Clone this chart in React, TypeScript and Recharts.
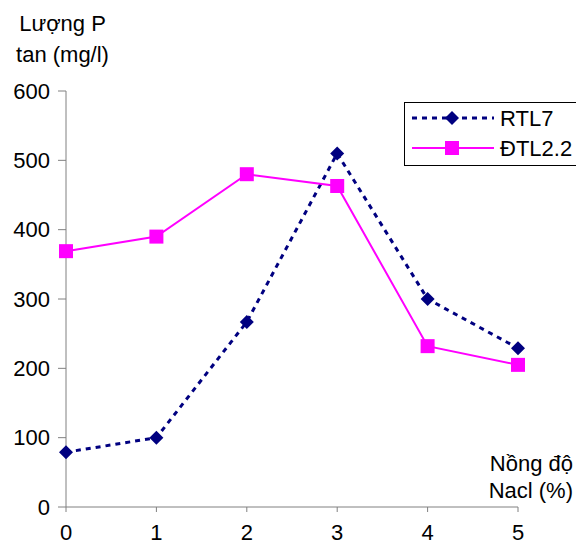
import { LineChart, Line, XAxis, YAxis } from "recharts";

const nacl = [0, 1, 2, 3, 4, 5];
const rtl7 = [79, 100, 267, 510, 300, 229];
const dtl22 = [369, 390, 480, 463, 232, 205];
const yTicks = [0, 100, 200, 300, 400, 500, 600];

const data = nacl.map((x, i) => ({ x, rtl7: rtl7[i], dtl22: dtl22[i] }));

const font = "'Liberation Sans', Arial, sans-serif";
const fs = 22;

const Diamond = (props: any) => {
  const { cx, cy, key } = props;
  const r = 7;
  return (
    <polygon key={key} points={`${cx},${cy - r} ${cx + r},${cy} ${cx},${cy + r} ${cx - r},${cy}`} fill="#000080" />
  );
};

const Square = (props: any) => {
  const { cx, cy, key } = props;
  return <rect key={key} x={cx - 7} y={cy - 7} width={14} height={14} fill="#FF00FF" />;
};

const LegendBox = () => (
  <svg width={172} height={66} style={{ display: "block" }}>
    <rect x={0.5} y={0.5} width={180} height={63} fill="#fff" stroke="#000" />
    <line x1={8} y1={16} x2={90} y2={16} stroke="#000080" strokeWidth={3} strokeDasharray="5 5" />
    <polygon points="48,9 55,16 48,23 41,16" fill="#000080" />
    <text x={96} y={24} fontSize={fs} fontFamily={font}>RTL7</text>
    <line x1={8} y1={46} x2={90} y2={46} stroke="#FF00FF" strokeWidth={2} />
    <rect x={41} y={39} width={14} height={14} fill="#FF00FF" />
    <text x={96} y={54} fontSize={fs} fontFamily={font}>ĐTL2.2</text>
  </svg>
);

export default function App() {
  return (
    <div style={{ position: "absolute", left: 0, top: 0, width: 576, height: 544, background: "#fff", fontFamily: font, overflow: "hidden" }}>
      <LineChart width={576} height={544} data={data} margin={{ top: 91, right: 58, left: 10, bottom: 0 }}>
        <XAxis
          dataKey="x"
          type="number"
          domain={[0, 5]}
          ticks={nacl}
          height={37}
          tickSize={5}
          tickMargin={12}
          stroke="#808080"
          tick={{ fill: "#000", fontSize: fs, fontFamily: font }}
        />
        <YAxis
          type="number"
          domain={[0, 600]}
          ticks={yTicks}
          width={56}
          tickSize={8}
          tickMargin={8}
          stroke="#808080"
          tick={{ fill: "#000", fontSize: fs, fontFamily: font }}
        />
        <Line
          dataKey="rtl7"
          stroke="#000080"
          strokeWidth={3}
          strokeDasharray="5 5"
          dot={Diamond}
          activeDot={false}
          isAnimationActive={false}
        />
        <Line
          dataKey="dtl22"
          stroke="#FF00FF"
          strokeWidth={2}
          dot={Square}
          activeDot={false}
          isAnimationActive={false}
        />
      </LineChart>
      <div style={{ position: "absolute", left: 404, top: 102 }}>
        <LegendBox />
      </div>
      <div style={{ position: "absolute", left: 0, top: 8, width: 125, textAlign: "center", fontSize: fs, lineHeight: "31px" }}>
        Lượng P<br />tan (mg/l)
      </div>
      <div style={{ position: "absolute", right: 3, top: 450, textAlign: "right", fontSize: fs, lineHeight: "27px" }}>
        Nồng độ<br />Nacl (%)
      </div>
    </div>
  );
}
